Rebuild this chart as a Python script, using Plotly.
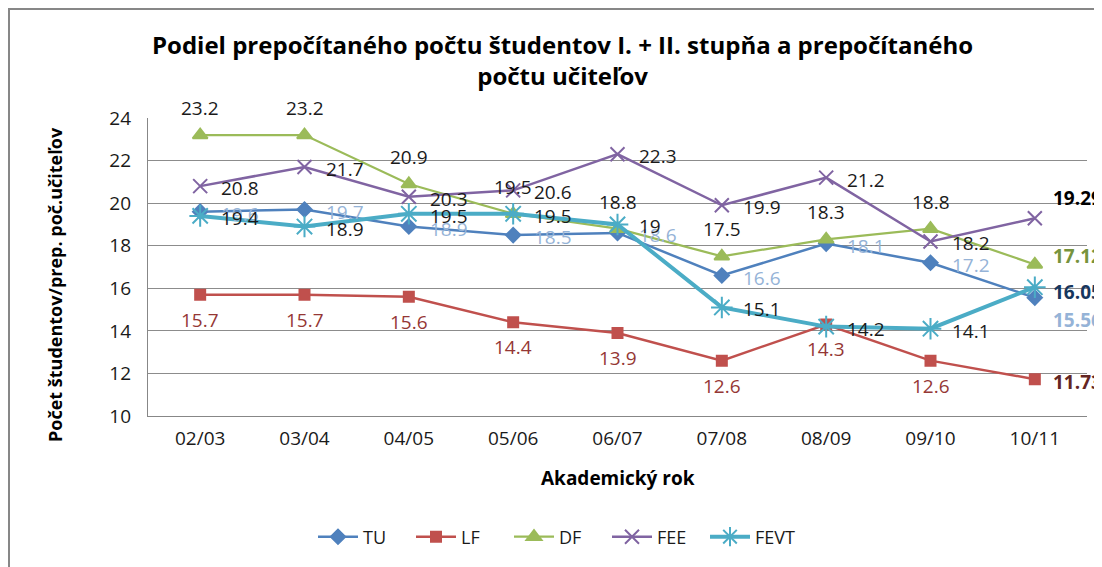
import plotly.graph_objects as go

# ---------------- data ----------------
years = ["02/03", "03/04", "04/05", "05/06", "06/07", "07/08", "08/09", "09/10", "10/11"]
tu = [19.6, 19.7, 18.9, 18.5, 18.6, 16.6, 18.1, 17.2, 15.56]
lf = [15.7, 15.7, 15.6, 14.4, 13.9, 12.6, 14.3, 12.6, 11.73]
df = [23.2, 23.2, 20.9, 19.5, 18.8, 17.5, 18.3, 18.8, 17.12]
fee = [20.8, 21.7, 20.3, 20.6, 22.3, 19.9, 21.2, 18.2, 19.29]
fevt = [19.4, 18.9, 19.5, 19.5, 19.0, 15.1, 14.2, 14.1, 16.05]
y_ticks = [10, 12, 14, 16, 18, 20, 22, 24]

title_text = "Podiel prepočítaného počtu študentov I. + II. stupňa a prepočítaného<br>počtu učiteľov"
x_title = "Akademický rok"
y_title = "Počet študentov/prep. poč.učiteľov"

# ---------------- layout geometry (page pixels; page has an 8px body margin) ----------------
PAGE_OFF = 8
W, H = 1094, 559
PL, PR, PT, PB = 140, 1079, 110, 408          # plot area in figure pixels
PW, PH = PR - PL, PB - PT


def px(xpage):
    return (xpage - PAGE_OFF - PL) / PW


def py(ypage):
    return (PB - (ypage - PAGE_OFF)) / PH


FONT = "Open Sans"
TXT = "#1a1a1a"
series = [
    dict(name="TU", y=tu, color="#4F81BD", width=2.5, symbol="diamond", msize=11,
         lab_color="#95B3D7", place="right", last_color="#95B3D7", last_dy=-22),
    dict(name="LF", y=lf, color="#C0504D", width=2.5, symbol="square", msize=10,
         lab_color="#953735", place="below", last_color="#632523", last_dy=-3),
    dict(name="DF", y=df, color="#9BBB59", width=2.2, symbol="triangle-up", msize=13,
         lab_color=TXT, place="above", last_color="#77933C", last_dy=8),
    dict(name="FEE", y=fee, color="#8064A2", width=2.5, symbol="x-thin-open", msize=14,
         lab_color=TXT, place="right", last_color="#000000", last_dy=20),
    dict(name="FEVT", y=fevt, color="#4BACC6", width=4, symbol="asterisk-open", msize=18,
         lab_color=TXT, place="right", last_color="#17375E", last_dy=-5),
]

fig = go.Figure()
annotations = []
for s in series:
    fig.add_trace(go.Scatter(
        x=years, y=s["y"], name=s["name"], mode="lines+markers",
        line=dict(color=s["color"], width=s["width"]),
        marker=dict(symbol=s["symbol"], size=s["msize"], color=s["color"],
                    line=dict(color=s["color"], width=2)),
        cliponaxis=False,
    ))
    n = len(s["y"])
    for i, (xv, yv) in enumerate(zip(years, s["y"])):
        if i == n - 1:
            annotations.append(dict(
                x=xv, y=yv, xref="x", yref="y", text=f"<b>{yv:g}</b>", showarrow=False,
                xanchor="left", yanchor="middle", xshift=16, yshift=s["last_dy"],
                font=dict(family=FONT, size=19, color=s["last_color"]),
            ))
            continue
        if s["place"] == "above":
            a = dict(xanchor="center", yanchor="middle", xshift=0, yshift=27)
        elif s["place"] == "below":
            a = dict(xanchor="center", yanchor="middle", xshift=0, yshift=-25)
        else:
            a = dict(xanchor="left", yanchor="middle", xshift=19, yshift=-2)
        annotations.append(dict(
            x=xv, y=yv, xref="x", yref="y", text=f"{yv:g}", showarrow=False,
            font=dict(family=FONT, size=19, color=s["lab_color"]), **a,
        ))

# title and axis titles
annotations.append(dict(
    x=px(562), y=py(60), xref="paper", yref="paper",
    text=f"<b>{title_text}</b>", showarrow=False, xanchor="center", yanchor="middle",
    font=dict(family=FONT, size=24, color="#000000"),
))
annotations.append(dict(
    x=px(618), y=py(478), xref="paper", yref="paper",
    text=f"<b>{x_title}</b>", showarrow=False, xanchor="center", yanchor="middle",
    font=dict(family=FONT, size=19, color="#000000"),
))
annotations.append(dict(
    x=px(55), y=py(285), xref="paper", yref="paper",
    text=f"<b>{y_title}</b>", showarrow=False, xanchor="center", yanchor="middle",
    textangle=-90, font=dict(family=FONT, size=18, color="#000000"),
))

shapes = [dict(
    type="rect", xref="paper", yref="paper",
    x0=px(9), x1=px(1125), y0=py(600), y1=py(9),
    line=dict(color="#878787", width=2), fillcolor="rgba(0,0,0,0)", layer="below",
)]

fig.update_layout(
    width=W, height=H,
    margin=dict(l=PL, r=W - PR, t=PT, b=H - PB, autoexpand=False),
    paper_bgcolor="white", plot_bgcolor="white",
    font=dict(family=FONT, size=18, color=TXT),
    showlegend=True,
    legend=dict(orientation="h", x=px(558), xanchor="center",
                y=py(537), yanchor="middle",
                font=dict(family=FONT, size=18, color=TXT),
                entrywidth=43, entrywidthmode="pixels", itemwidth=40),
    xaxis=dict(type="category", range=[-0.5, 8.5], showgrid=False,
               showline=True, linecolor="#878787", linewidth=1.2,
               ticks="", tickfont=dict(family=FONT, size=19, color=TXT),
               ticklabelstandoff=5, fixedrange=True),
    yaxis=dict(range=[10, 24], tickvals=y_ticks, showgrid=True, gridcolor="#8c8c8c",
               gridwidth=1, showline=True, linecolor="#878787", linewidth=1.2,
               zeroline=False, ticks="", tickfont=dict(family=FONT, size=19, color=TXT),
               ticklabelstandoff=12, fixedrange=True),
    annotations=annotations,
    shapes=shapes,
)

fig.write_html("out.html")
